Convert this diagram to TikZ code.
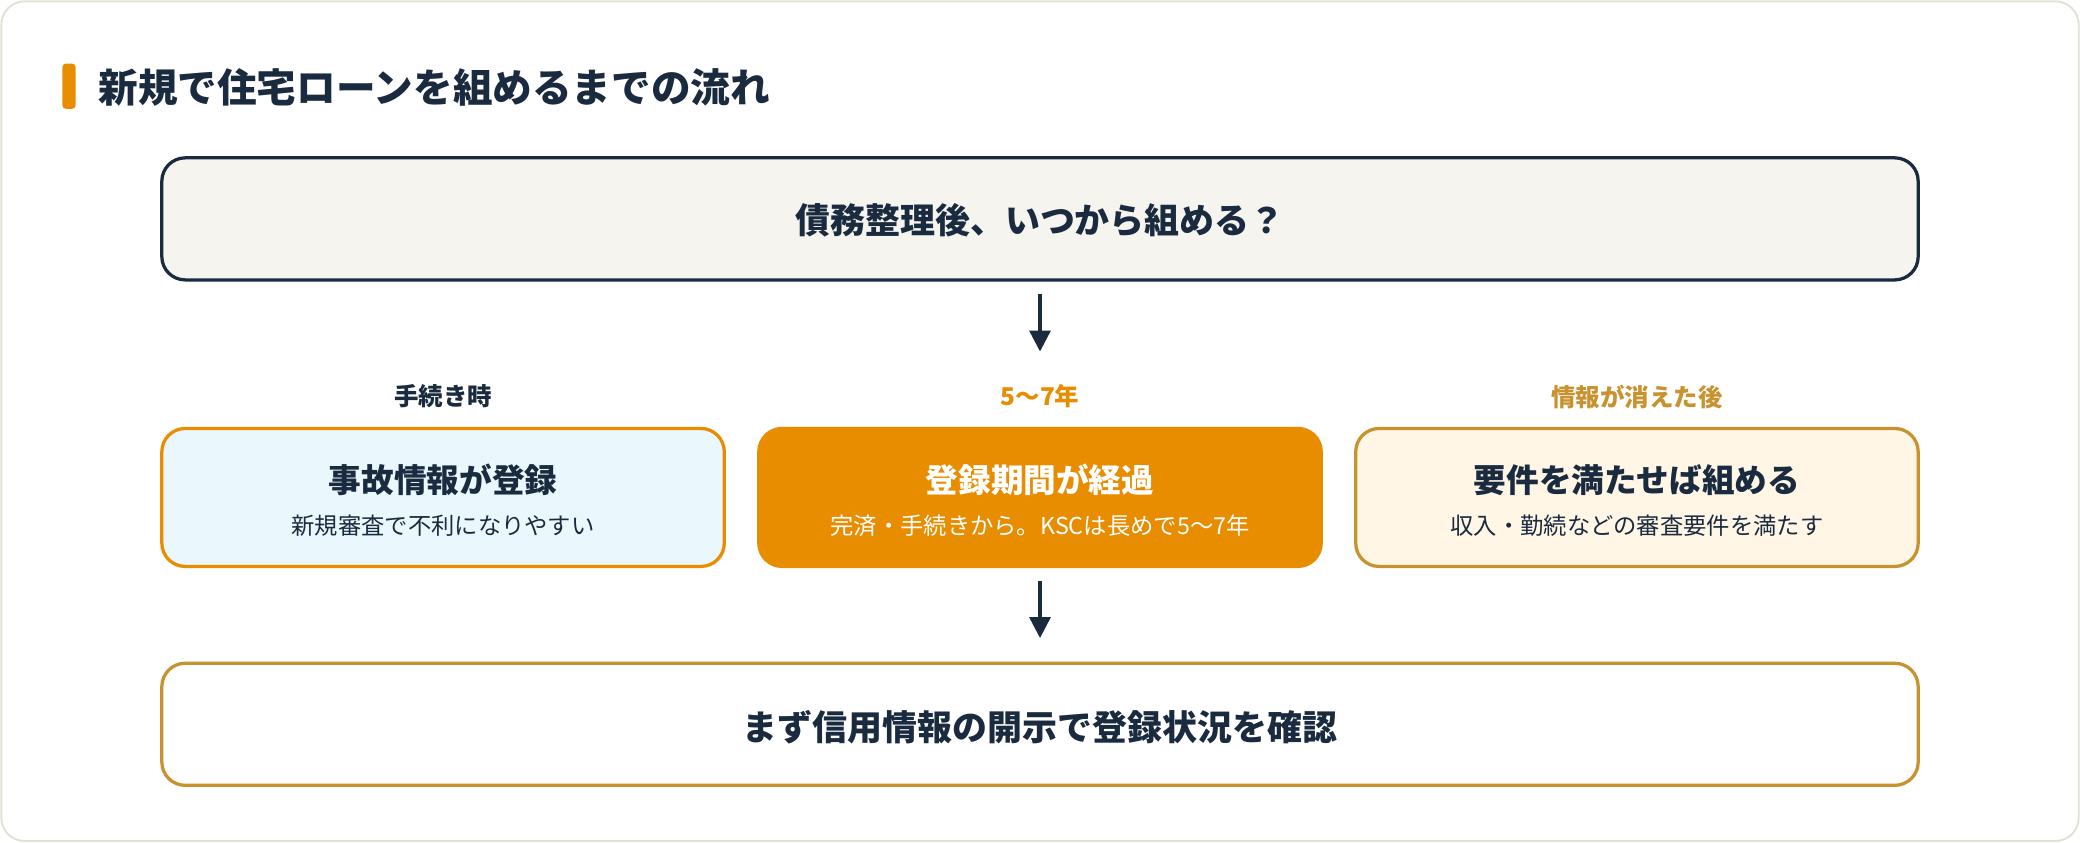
\documentclass[tikz,border=0pt]{standalone}
\usepackage{fontspec}
\setmainfont{Noto Sans CJK JP}
\usepackage{xcolor}
\usetikzlibrary{arrows.meta,positioning}
\definecolor{navy}{HTML}{1A2B40}
\definecolor{orng}{HTML}{E88C00}
\definecolor{gold}{HTML}{C8922F}
\definecolor{paper}{HTML}{F5F4EF}
\definecolor{skyfill}{HTML}{EAF7FC}
\definecolor{creamfill}{HTML}{FFF6E5}
\definecolor{edge}{HTML}{E2E0D6}
\tikzset{
	box/.style={rounded corners=10pt,line width=1.4pt},
	head/.style={font=\bfseries\fontsize{14}{16}\selectfont,text=navy},
	sub/.style={font=\fontsize{10}{12}\selectfont,text=navy},
	tag/.style={font=\bfseries\fontsize{10.5}{12}\selectfont},
	flowarrow/.style={-{Triangle[length=9pt,width=9pt]},line width=1.4pt,draw=navy}
}
\begin{document}
\begin{tikzpicture}[x=0.02cm,y=-0.02cm]
		\draw[edge,fill=white,rounded corners=10pt,line width=0.8pt] (1,1) rectangle (1567,634);
		\useasboundingbox (0,0) rectangle (1568,635);
		\fill[orng,rounded corners=1.5pt] (47,48) rectangle (57,82);
		\node[anchor=west,font=\bfseries\fontsize{17}{20}\selectfont,text=navy] (title) at (68,66) {新規で住宅ローンを組めるまでの流れ};
		%
		\draw[box,draw=navy,fill=paper] (122,119) rectangle (1446,211);
		\node[head,font=\bfseries\fontsize{15}{18}\selectfont] (Q) at (784,166) {債務整理後、いつから組める？};
		%
		\draw[box,draw=orng,fill=skyfill] (122,323) rectangle (546,427);
		\draw[box,draw=orng,fill=orng] (572,323) rectangle (996,427);
		\draw[box,draw=gold,fill=creamfill] (1022,323) rectangle (1446,427);
		\node[tag,text=navy] (t1) at (334,299) {手続き時};
		\node[tag,text=orng] (t2) at (784,299) {5〜7年};
		\node[tag,text=gold] (t3) at (1234,299) {情報が消えた後};
		\node[head] (A) at (334,362) {事故情報が登録};
		\node[sub] (a) at (334,396) {新規審査で不利になりやすい};
		\node[head,text=white] (B) at (784,362) {登録期間が経過};
		\node[sub,text=white] (b) at (784,396) {完済・手続きから。KSCは長めで5〜7年};
		\node[head] (C) at (1234,362) {要件を満たせば組める};
		\node[sub] (c) at (1234,396) {収入・勤続などの審査要件を満たす};
		%
		\draw[box,draw=gold,fill=white] (122,500) rectangle (1446,592);
		\node[head,font=\bfseries\fontsize{15}{18}\selectfont] (D) at (784,548) {まず信用情報の開示で登録状況を確認};
		%
		\coordinate (q1) at (784,222);
		\coordinate (q2) at (784,265);
		\coordinate (b1) at (784,438);
		\coordinate (b2) at (784,481);
		\draw[flowarrow] (q1) -- (q2);
		\draw[flowarrow] (b1) -- (b2);
\end{tikzpicture}
\end{document}
